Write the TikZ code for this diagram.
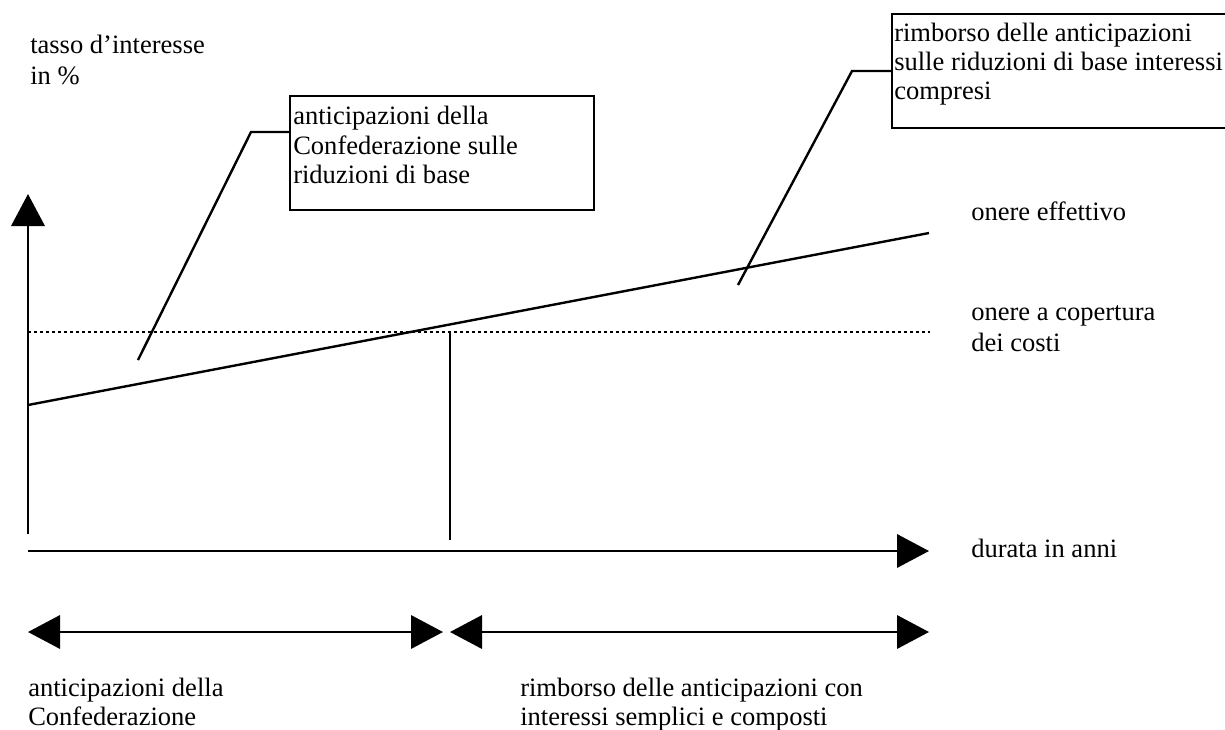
\documentclass[tikz,border=0pt]{standalone}
\usepackage{fontspec}
\setmainfont{Liberation Serif}
\usetikzlibrary{arrows.meta}
\begin{document}
\begin{tikzpicture}[x=0.75pt,y=-0.75pt,
  lbl/.style={anchor=base west,inner sep=0pt,font=\fontsize{19.9}{22}\selectfont},
  ln/.style={line width=1.8pt},
  tip/.tip={Triangle[length=24pt,width=25pt]},
  arr/.style={ln,-tip},
  darr/.style={ln,tip-tip},
  dots/.style={line width=1.8pt,dash pattern=on 2.25pt off 2.25pt},
  boxed/.style={draw,line width=1.8pt,anchor=north west,inner sep=0pt}]
\clip (0,0) rectangle (1225,729);
\useasboundingbox (0,0) rectangle (1225,729);

% axes
\coordinate (ybot) at (28,534);
\coordinate (ytop) at (28,194);
\coordinate (xl) at (28,551);
\coordinate (xr) at (929,551);
\draw[arr] (ybot) -- (ytop);
\draw[arr] (xl) -- (xr);

% lines
\coordinate (dl) at (28,332);
\coordinate (dr) at (930,332);
\draw[dots] (dl) -- (dr);
\coordinate (el) at (28,405);
\coordinate (er) at (929,233);
\draw[ln] (el) -- (er);
\coordinate (vt) at (450,332);
\coordinate (vb) at (450,540);
\draw[ln] (vt) -- (vb);

% bottom arrows
\coordinate (a1l) at (28,632);
\coordinate (a1r) at (443,632);
\coordinate (a2l) at (450,632);
\coordinate (a2r) at (929,632);
\draw[darr] (a1l) -- (a1r);
\draw[darr] (a2l) -- (a2r);

% box 1
\node[boxed,minimum width=228pt,minimum height=85.5pt] (box1) at (289,95) {};
\node[lbl] (b1a) at (293,124) {anticipazioni della};
\node[lbl] (b1b) at (293,154) {Confederazione sulle};
\node[lbl] (b1c) at (293,183) {riduzioni di base};
\coordinate (k1) at (251,132);
\coordinate (e1) at (138,360);
\draw[ln] (box1.west |- k1) -- (k1) -- (e1);

% box 2
\node[boxed,minimum width=258pt,minimum height=85.5pt] (box2) at (891,13) {};
\node[lbl] (b2a) at (894,41) {rimborso delle anticipazioni};
\node[lbl] (b2b) at (894,70) {sulle riduzioni di base interessi};
\node[lbl] (b2c) at (894,99) {compresi};
\coordinate (k2) at (852,71);
\coordinate (e2) at (738,285);
\draw[ln] (box2.west |- k2) -- (k2) -- (e2);

% labels
\node[lbl] (t1) at (30,53) {tasso d’interesse};
\node[lbl] (t2) at (30,84) {in \%};
\node[lbl] (oe) at (971,220) {onere effettivo};
\node[lbl] (oc1) at (971,320) {onere a copertura};
\node[lbl] (oc2) at (971,351) {dei costi};
\node[lbl] (du) at (971,557) {durata in anni};
\node[lbl] (bl1) at (28,696) {anticipazioni della};
\node[lbl] (bl2) at (28,725) {Confederazione};
\node[lbl] (br1) at (520,696) {rimborso delle anticipazioni con};
\node[lbl] (br2) at (520,725) {interessi semplici e composti};
\end{tikzpicture}
\end{document}
